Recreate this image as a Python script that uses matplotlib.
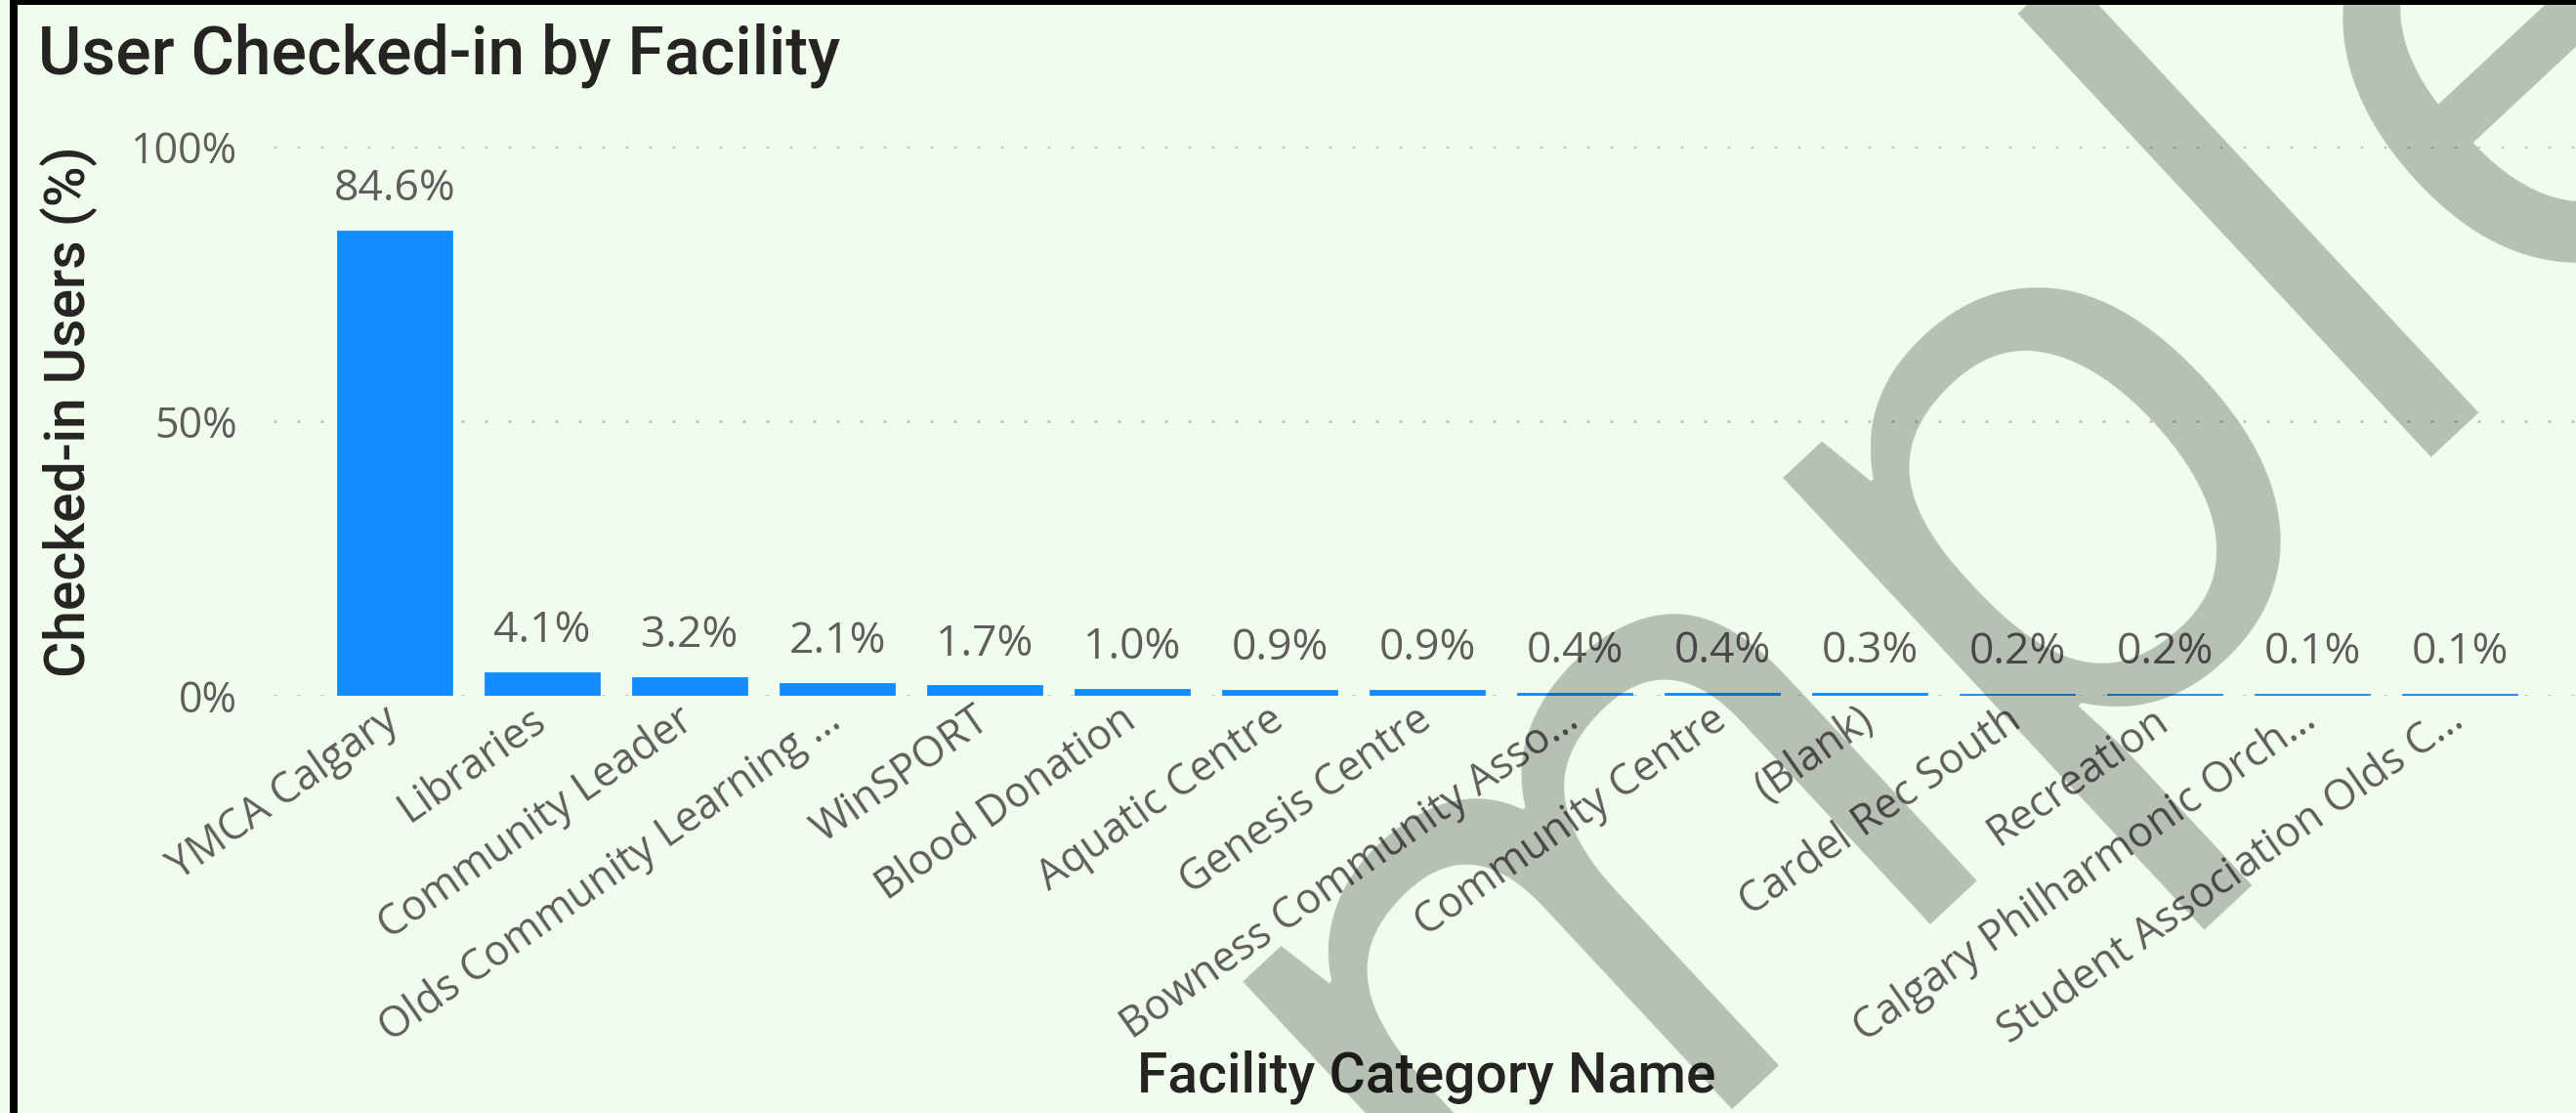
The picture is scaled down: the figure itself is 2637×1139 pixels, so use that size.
import matplotlib
matplotlib.use("Agg")
import matplotlib.pyplot as plt
from matplotlib.patches import Rectangle

# ---- data ----
categories = ["YMCA Calgary", "Libraries", "Community Leader", "Olds Community Learning …",
              "WinSPORT", "Blood Donation", "Aquatic Centre", "Genesis Centre",
              "Bowness Community Asso…", "Community Centre", "(Blank)", "Cardel Rec South",
              "Recreation", "Calgary Philharmonic Orch…", "Student Association Olds C…"]
values = [84.6, 4.1, 3.2, 2.1, 1.7, 1.0, 0.9, 0.9, 0.4, 0.4, 0.3, 0.2, 0.2, 0.1, 0.1]
y_ticks = [0, 50, 100]
y_tick_labels = ["0%", "50%", "100%"]
title = "User Checked-in by Facility"
x_title = "Facility Category Name"
y_title = "Checked-in Users (%)"

W, H = 2637, 1139
DPI = 100
BG = "#F0FDEC"
BAR = "#118DFF"
LABEL = "#605E5C"
DARK = "#252423"

fig = plt.figure(figsize=(W / DPI, H / DPI), dpi=DPI, facecolor=BG)

def fx(px):
    return px / W

def fy(py):
    return 1 - py / H

ax_left, ax_right, ax_top, ax_bot = 280, 2637, 150, 712
ax = fig.add_axes([fx(ax_left), fy(ax_bot), fx(ax_right - ax_left), (ax_bot - ax_top) / H])
ax.set_facecolor(BG)

x = list(range(len(categories)))
spacing = 151.0
c0 = 404.0
ax.set_xlim((ax_left - c0) / spacing, (ax_right - c0) / spacing)
ax.set_ylim(0, 100)

ax.bar(x, values, width=0.765, color=BAR, edgecolor=BAR, linewidth=2.0, zorder=3)

for xi, v in zip(x, values):
    ax.annotate(f"{v:.1f}%", (xi, v), xytext=(0, 23), textcoords="offset points",
                ha="center", va="baseline", fontsize=32, color=LABEL,
                family=["Open Sans", "DejaVu Sans"], zorder=4)

ax.set_yticks(y_ticks)
ax.set_yticklabels(y_tick_labels, fontsize=31, color=LABEL, family=["Open Sans", "DejaVu Sans"])
ax.set_xticks(x)
ax.set_xticklabels(categories, rotation=35, ha="right", va="center", rotation_mode="anchor",
                   fontsize=31, color=LABEL, family=["Open Sans", "DejaVu Sans"])
ax.tick_params(axis="y", length=0, pad=27)
ax.tick_params(axis="x", length=0, pad=15)

ax.yaxis.grid(True, color="#C8C6C4", linewidth=2.16, linestyle=(0, (1, 7)), zorder=0)
ax.set_axisbelow(True)
for s in ax.spines.values():
    s.set_visible(False)

# titles
fig.text(fx(39), fy(75), title, fontsize=49, color=DARK, family=["Roboto", "DejaVu Sans"],
         fontweight="medium", ha="left", va="baseline")
fig.text(fx(71), fy(421), y_title, fontsize=41, color=DARK, family=["Roboto", "DejaVu Sans"],
         fontweight="medium", rotation=90, ha="center", va="center")
fig.text(fx(1460), fy(1102), x_title, fontsize=41, color=DARK, family=["Roboto", "DejaVu Sans"],
         fontweight="medium", ha="center", va="center")

# border
fig.add_artist(Rectangle((fx(10), 0), fx(8), 1, transform=fig.transFigure,
                         facecolor="black", edgecolor="none", zorder=5))
fig.add_artist(Rectangle((fx(10), fy(5)), 1, 5 / H, transform=fig.transFigure,
                         facecolor="black", edgecolor="none", zorder=5))

# watermark
fig.text(fx(850), fy(1958), "Sample", fontsize=588, color="black", alpha=0.245,
         family=["Open Sans", "DejaVu Sans"], rotation=43, rotation_mode="anchor",
         ha="left", va="baseline", zorder=10)

fig.savefig("out.png", dpi=DPI, facecolor=BG)
